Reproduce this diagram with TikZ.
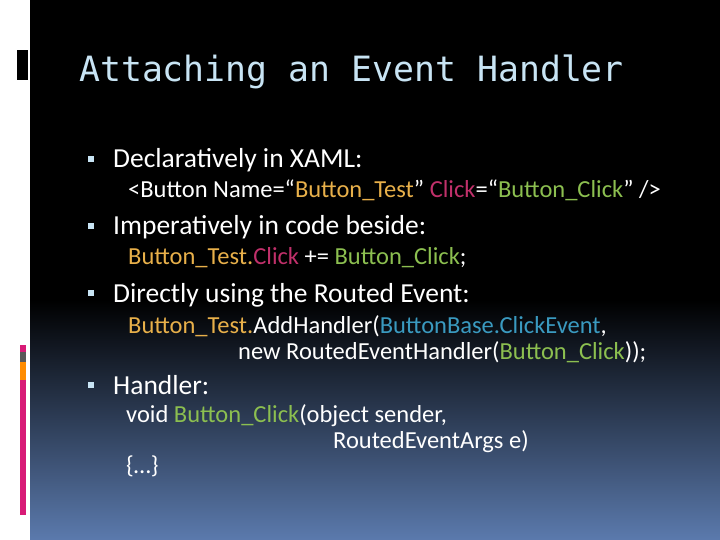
\documentclass[tikz,border=0pt]{standalone}
\usepackage{fontspec}
\setmainfont{Carlito}
\newfontfamily\titlefont{DejaVu Sans Mono}
\begin{document}
\begin{tikzpicture}[x=1pt,y=-1pt,
  body/.style={anchor=base west,inner sep=0,text=white,font=\fontsize{27.5}{32}\selectfont},
  code/.style={anchor=base west,inner sep=0,text=white,font=\fontsize{24.5}{28}\selectfont},
  bul/.style={fill=bulblue,minimum size=6pt,inner sep=0}]
\definecolor{bulblue}{HTML}{C8E4F4}
\definecolor{co}{HTML}{E8B04A}
\definecolor{cp}{HTML}{C0306A}
\definecolor{cg}{HTML}{8CBF50}
\definecolor{cb}{HTML}{3A9AC0}
\definecolor{bot}{HTML}{5B7AAD}
\definecolor{barpink}{HTML}{D81B77}
\useasboundingbox (0,0) rectangle (720,540);
\fill[white] (0,0) rectangle (30,540);
\fill[black] (30,0) rectangle (720,300);
\shade[top color=black,bottom color=bot] (30,300) rectangle (720,540);
\fill[black] (17,50) rectangle (28,80);
\fill[barpink] (20,345) rectangle (26,352);
\fill[gray!70!black] (20,352) rectangle (26,362);
\fill[orange!90!yellow] (20,362) rectangle (26,380);
\fill[barpink] (20,380) rectangle (26,515);
\node[anchor=base west,inner sep=0,text=bulblue,font=\titlefont\fontsize{34.8}{40}\selectfont] (title) at (79,82) {Attaching an Event Handler};
\node[bul] (b1) at (91,159) {};
\node[body] (t1) at (113,168) {Declaratively in XAML:};
\node[code] (c1) at (128,197) {<Button Name=“\textcolor{co}{Button\_Test}” \textcolor{cp}{Click}=“\textcolor{cg}{Button\_Click}” />};
\node[bul] (b2) at (91,226) {};
\node[body] (t2) at (113,235) {Imperatively in code beside:};
\node[code] (c2) at (128,264) {\textcolor{co}{Button\_Test.}\textcolor{cp}{Click} += \textcolor{cg}{Button\_Click};};
\node[bul] (b3) at (91,293) {};
\node[body] (t3) at (113,302) {Directly using the Routed Event:};
\node[code] (c3) at (128,333) {\textcolor{co}{Button\_Test.}AddHandler(\textcolor{cb}{ButtonBase.ClickEvent},};
\node[code] (c4) at (238,359) {new RoutedEventHandler(\textcolor{cg}{Button\_Click}));};
\node[bul] (b4) at (91,385) {};
\node[body] (t4) at (113,394) {Handler:};
\node[code] (c5) at (126,422) {void \textcolor{cg}{Button\_Click}(object sender,};
\node[code] (c6) at (333,448) {RoutedEventArgs e)};
\node[code] (c7) at (126,473) {\{…\}};
\end{tikzpicture}
\end{document}
